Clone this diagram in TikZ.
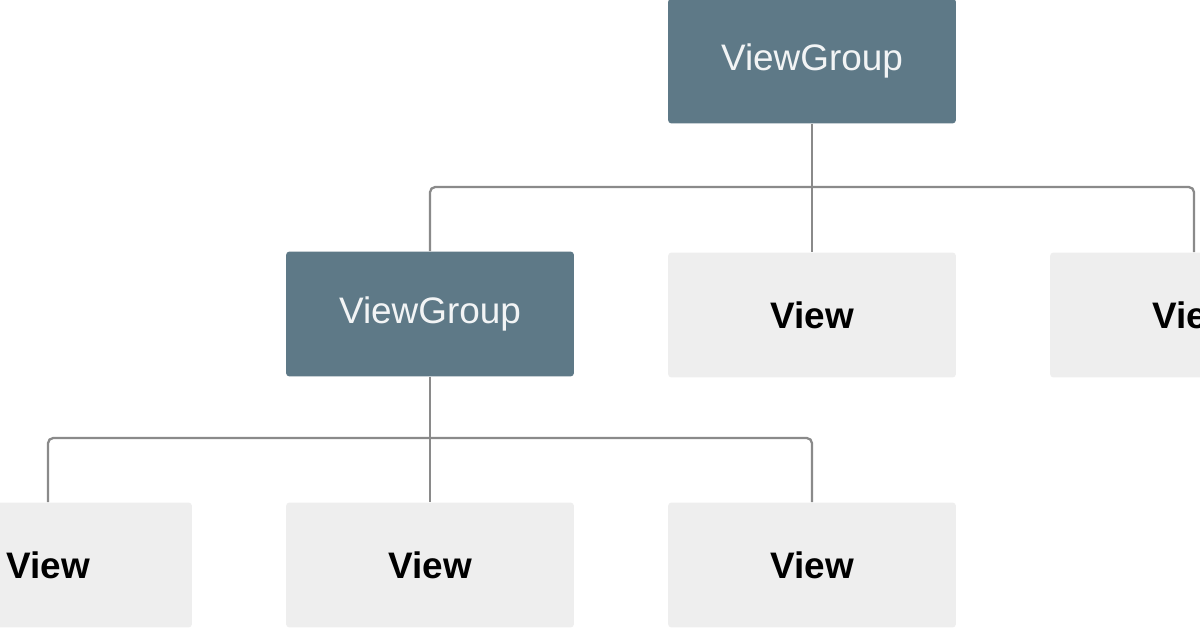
\documentclass[tikz,border=0pt]{standalone}
\usepackage{fontspec}
\setmainfont{Liberation Sans}
\usetikzlibrary{positioning}
\definecolor{groupfill}{HTML}{5E7987}
\definecolor{viewfill}{HTML}{EEEEEE}
\definecolor{wire}{HTML}{8A8A8A}
\tikzset{
  box/.style={rectangle,rounded corners=2pt,minimum width=5.76cm,minimum height=2.5cm,inner sep=0pt,font=\fontsize{21}{24}\selectfont},
  group/.style={box,fill=groupfill,text=white!92!groupfill},
  view/.style={box,fill=viewfill,text=black,font=\fontsize{21}{24}\selectfont\bfseries},
  wire/.style={draw=wire,line width=1.3pt,rounded corners=3pt}
}
\begin{document}
\begin{tikzpicture}[x=0.02cm,y=-0.02cm]
\useasboundingbox (0,0) rectangle (1200,628);
\clip (0,0) rectangle (1200,628);
\fill[white] (0,0) rectangle (1200,628);
\node[group](root) at (812,61){ViewGroup};
\node[group](sub) at (430,314){ViewGroup};
\node[view](viewA) at (812,315){View};
\node[view](viewB) at (1194,315){View};
\node[view](viewC) at (48,565){View};
\node[view](viewD) at (430,565){View};
\node[view](viewE) at (812,565){View};
\coordinate(busA) at (812,187);
\coordinate(busB) at (430,438);

\draw[wire](root.south)--(viewA.north);
\draw[wire](sub.north)|-(busA)-|(viewB.north);
\draw[wire](sub.south)--(viewD.north);
\draw[wire](viewC.north)|-(busB)-|(viewE.north);
\end{tikzpicture}
\end{document}
